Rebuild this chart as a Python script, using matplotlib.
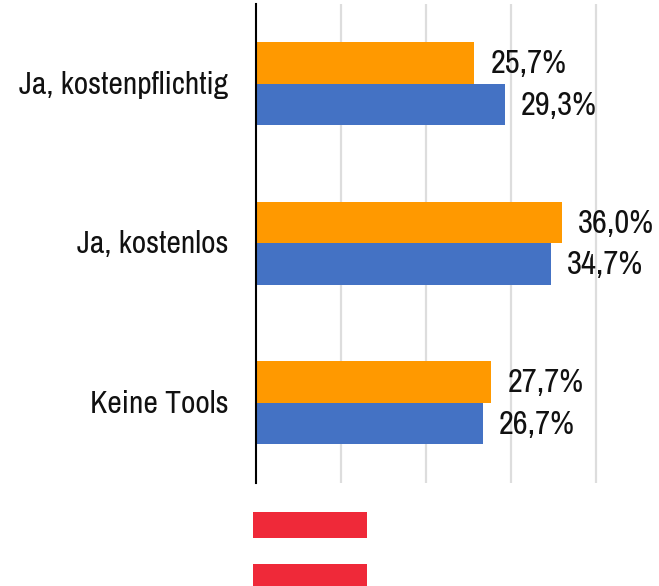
import matplotlib
matplotlib.use("Agg")
import matplotlib.pyplot as plt
from matplotlib.patches import Rectangle
from matplotlib.transforms import ScaledTranslation

plt.rcParams['font.family'] = ['Archivo Narrow', 'Liberation Sans', 'DejaVu Sans']

categories = ["Ja, kostenpflichtig", "Ja, kostenlos", "Keine Tools"]
orange_values = [25.7, 36.0, 27.7]
blue_values = [29.3, 34.7, 26.7]
labels_orange = ["25,7%", "36,0%", "27,7%"]
labels_blue = ["29,3%", "34,7%", "26,7%"]
x_ticks = [0, 10, 20, 30, 40]

W, H = 659, 586
fig = plt.figure(figsize=(W/100, H/100), dpi=100)
ax = fig.add_axes([256/W, 1-483/H, 400/W, 479/H])
ax.set_xlim(0, 400/8.5)
ax.set_ylim(2.505, -0.5)
ypos = list(range(3))
bh = 0.26
ax.barh([y-bh/2 for y in ypos], orange_values, height=bh, color="#FF9900", zorder=3)
ax.barh([y+bh/2 for y in ypos], blue_values, height=bh, color="#4472C4", zorder=3)
for y, v, l in zip(ypos, orange_values, labels_orange):
    ax.annotate(l, (v, y-bh/2), xytext=(11.5, -1), textcoords='offset points', va='center', ha='left', fontsize=23.5, color='#111111', zorder=4)
for y, v, l in zip(ypos, blue_values, labels_blue):
    ax.annotate(l, (v, y+bh/2), xytext=(11.5, -1), textcoords='offset points', va='center', ha='left', fontsize=23.5, color='#111111', zorder=4)
ax.set_xticks(x_ticks[1:])
ax.tick_params(axis='x', length=0, labelbottom=False)
ax.grid(axis='x', color='#DDDDDD', lw=1.6, zorder=0)
ax.set_yticks(ypos)
ax.set_yticklabels(categories, fontsize=22.8, color='#111111')
ax.tick_params(axis='y', length=0, pad=20)
shift = ScaledTranslation(0, 1/72, fig.dpi_scale_trans)
for t in ax.get_yticklabels():
    t.set_transform(t.get_transform() + shift)
for s in ['top', 'right', 'bottom']:
    ax.spines[s].set_visible(False)
ax.spines['left'].set_linewidth(1.5)
ax.spines['left'].set_color('black')
ax.spines['left'].set_zorder(5)
for top, bot in [(512, 538), (564, 586)]:
    fig.add_artist(Rectangle((253/W, 1-bot/H), 114/W, (bot-top)/H, transform=fig.transFigure, color='#EF2939', lw=0))
fig.savefig("out.png", dpi=100)
